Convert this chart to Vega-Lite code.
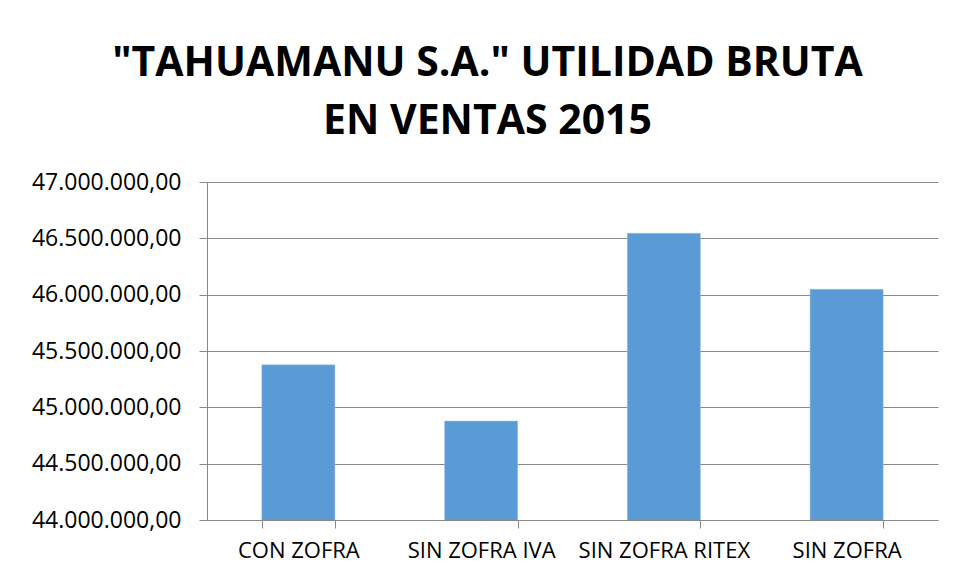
{
  "$schema": "https://vega.github.io/schema/vega-lite/v6.json",
  "autosize": "none",
  "width": 731,
  "height": 338,
  "padding": {"left": 207, "top": 182, "right": 20, "bottom": 59},
  "background": "white",
  "config": {
    "locale": {"number": {"decimal": ",", "thousands": ".", "grouping": [3], "currency": ["", ""]}},
    "view": {"stroke": null},
    "font": "Open Sans"
  },
  "title": {
    "text": ["\"TAHUAMANU S.A.\" UTILIDAD BRUTA", "EN VENTAS 2015"],
    "font": "Open Sans",
    "fontSize": 41,
    "fontWeight": "bold",
    "color": "#000000",
    "anchor": "middle",
    "dx": -85,
    "lineHeight": 58,
    "offset": 28
  },
  "data": {
    "values": [
      {"categoria": "CON ZOFRA", "utilidad": 45377000},
      {"categoria": "SIN ZOFRA IVA", "utilidad": 44878000},
      {"categoria": "SIN ZOFRA RITEX", "utilidad": 46545000},
      {"categoria": "SIN ZOFRA", "utilidad": 46048000}
    ]
  },
  "mark": {"type": "bar", "color": "#5B9BD5", "stroke": "#9DC3E6", "strokeWidth": 0.5, "clip": true},
  "encoding": {
    "x": {
      "field": "categoria",
      "type": "nominal",
      "sort": null,
      "title": null,
      "scale": {"paddingInner": 0.6, "paddingOuter": 0.3},
      "axis": {
        "labelAngle": 0,
        "labelFontSize": 22,
        "labelColor": "#000000",
        "labelPadding": 12,
        "tickBand": "extent",
        "tickSize": 8,
        "tickColor": "#898989",
        "domainColor": "#898989",
        "grid": false
      }
    },
    "y": {
      "field": "utilidad",
      "type": "quantitative",
      "title": null,
      "scale": {"domain": [44000000, 47000000], "zero": false, "nice": false},
      "axis": {
        "values": [44000000, 44500000, 45000000, 45500000, 46000000, 46500000, 47000000],
        "format": ",.2f",
        "labelFontSize": 23,
        "labelColor": "#000000",
        "labelPadding": 18,
        "tickSize": 8,
        "tickColor": "#898989",
        "domainColor": "#898989",
        "gridColor": "#898989",
        "gridWidth": 1.2
      }
    }
  }
}
